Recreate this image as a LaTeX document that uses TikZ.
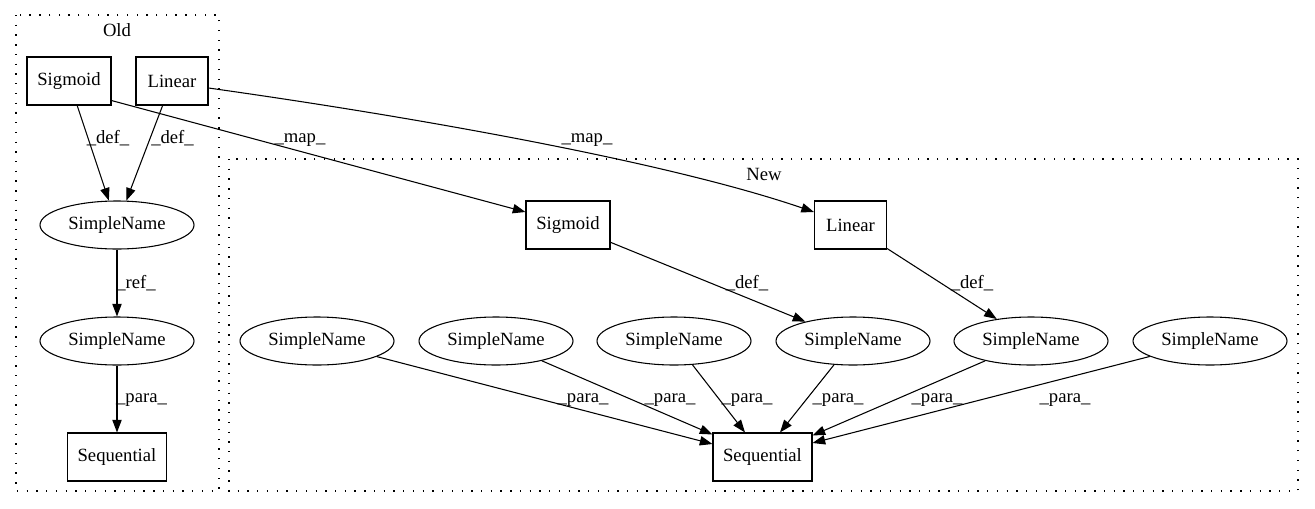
\documentclass[tikz,border=0pt]{standalone}
\usepackage{fontspec}
\setmainfont{Liberation Serif}
\usetikzlibrary{arrows.meta,calc,shapes.geometric}
\begin{document}
\begin{tikzpicture}[x=0.75pt,y=-0.75pt,
  every node/.style={font=\fontsize{14pt}{16pt}\selectfont},
  box/.style={draw,line width=0.8pt,rectangle,minimum height=36pt,inner sep=0pt},
  oval/.style={draw,line width=0.8pt,ellipse,minimum width=115.5pt,minimum height=36pt,inner sep=0pt},
  edge/.style={draw,line width=0.8pt,-{Triangle[length=9.5pt,width=7pt]}},
  lbl/.style={inner sep=0pt},
  cluster/.style={draw,line width=0.9pt,dash pattern=on 1pt off 6.3pt}]
\useasboundingbox[fill=white] (0,0) rectangle (1315,508);

% clusters
\draw[cluster] (16,15) rectangle (219,491);
\draw[cluster] (229,159) rectangle (1298,491);
\node[lbl] (oldlbl) at (117,30) {Old};
\node[lbl] (newlbl) at (764,174) {New};

% old nodes
\node[box,minimum width=63pt] (osig) at (69,81) {Sigmoid};
\node[box,minimum width=54pt] (olin) at (172,81) {Linear};
\node[oval] (osn1) at (117,225) {SimpleName};
\node[oval] (osn2) at (117,341) {SimpleName};
\node[box,minimum width=74.25pt] (oseq) at (117,457) {Sequential};

% new nodes
\node[box,minimum width=63pt] (sig) at (568,225) {Sigmoid};
\node[box,minimum width=54pt] (lin) at (850.5,225) {Linear};
\node[oval] (sn1) at (317,341) {SimpleName};
\node[oval] (sn2) at (496,341) {SimpleName};
\node[oval] (sn3) at (674,341) {SimpleName};
\node[oval] (sn4) at (853,341) {SimpleName};
\node[oval] (sn5) at (1031,341) {SimpleName};
\node[oval] (sn6) at (1210,341) {SimpleName};
\node[box,minimum width=74.25pt] (seq) at (762.5,457) {Sequential};

% old edges
\draw[edge] (osig) -- (osn1);
\draw[edge] (olin) -- (osn1);
\draw[edge] (osn1) -- (osn2);
\draw[edge] (osn2) -- (oseq);
\node[lbl] (ld1) at (108,138) {\_def\_};
\node[lbl] (ld2) at (172.5,138) {\_def\_};
\node[lbl] (lref) at (136,283) {\_ref\_};
\node[lbl] (lpo) at (141.5,400) {\_para\_};

% map edges
\draw[edge] ($(osig.south east)+(0,-5)$) -- ($(sig.west)+(0,-13)$);
\draw[edge] ($(olin.east)+(0,7)$) .. controls (408,116) and (665,161) .. ($(lin.west)+(0,-13)$);
\node[lbl] (lm1) at (300,140) {\_map\_};
\node[lbl] (lm2) at (587,140) {\_map\_};

% new edges
\draw[edge] (sig) -- (sn4);
\draw[edge] (lin) -- (sn5);
\node[lbl] (ld3) at (747,283) {\_def\_};
\node[lbl] (ld4) at (972,283) {\_def\_};

\draw[edge] (sn1) -- ($(seq.west)+(0,-13)$);
\draw[edge] (sn2) -- ($(seq.north west)+(0,2)$);
\draw[edge] (sn3) -- ($(seq.north)+(-17.5,0)$);
\draw[edge] (sn4) -- ($(seq.north)+(17.5,0)$);
\draw[edge] (sn5) -- ($(seq.north east)+(0,3)$);
\draw[edge] (sn6) -- ($(seq.east)+(0,-14)$);
\node[lbl] (lp1) at (583,400) {\_para\_};
\node[lbl] (lp2) at (670,400) {\_para\_};
\node[lbl] (lp3) at (747,400) {\_para\_};
\node[lbl] (lp4) at (838,400) {\_para\_};
\node[lbl] (lp5) at (937,400) {\_para\_};
\node[lbl] (lp6) at (1065,400) {\_para\_};
\end{tikzpicture}
\end{document}
